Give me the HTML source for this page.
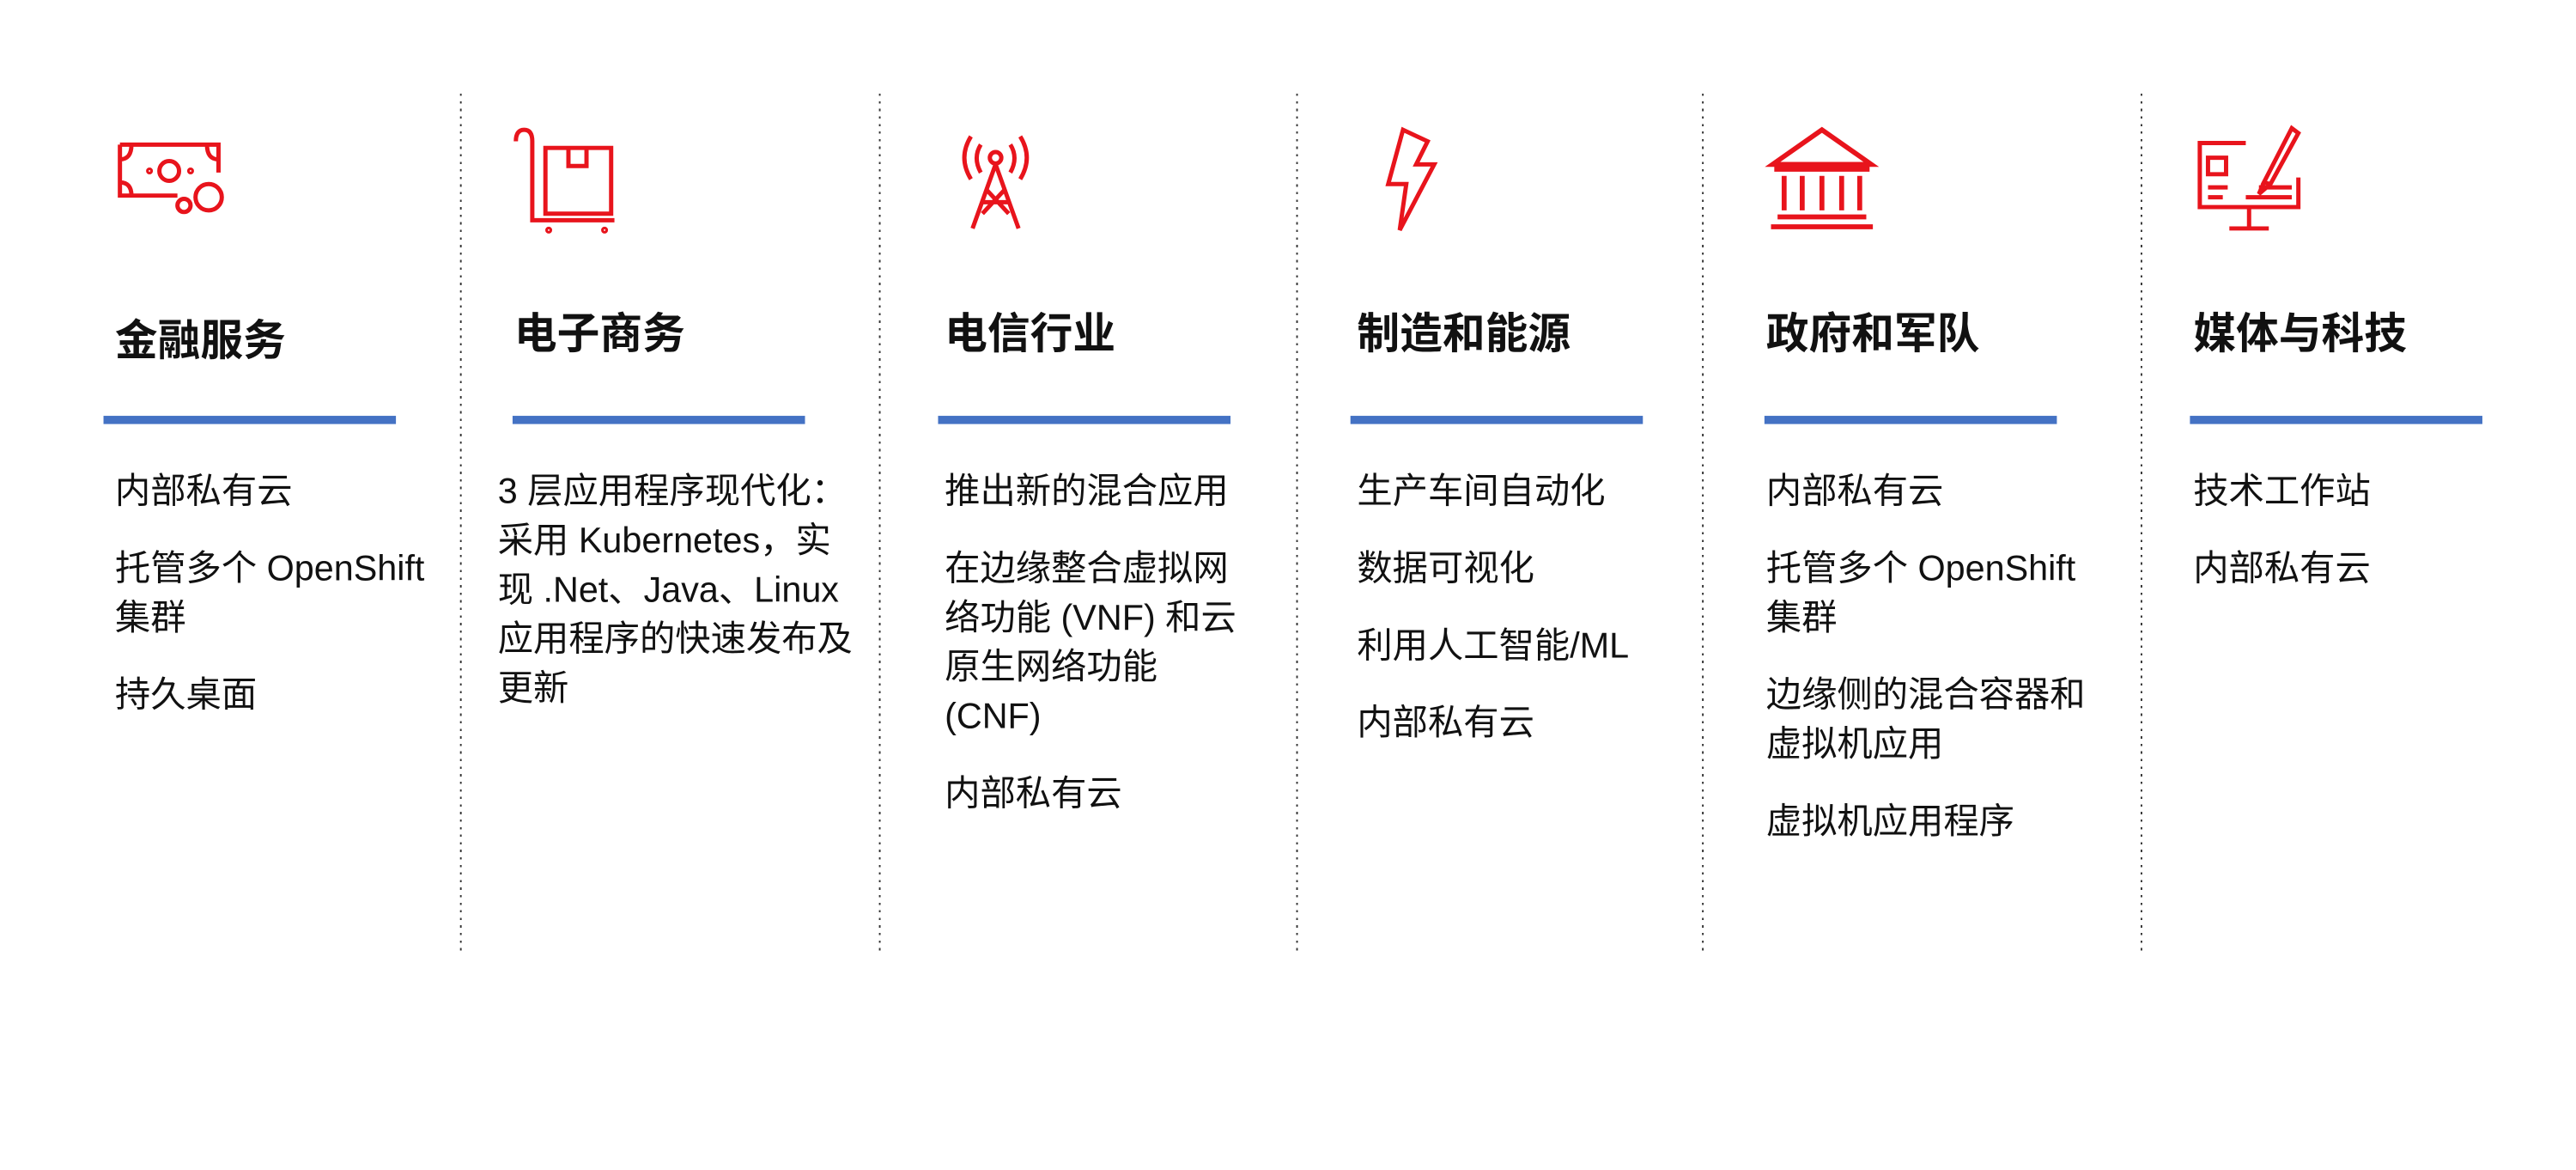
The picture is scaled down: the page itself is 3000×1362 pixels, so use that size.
<!DOCTYPE html>
<html><head><meta charset="utf-8"><style>
html,body{margin:0;padding:0;background:#fff;}
body{width:3000px;height:1362px;overflow:hidden;position:relative;}
#s{position:absolute;left:0;top:0;width:1568px;height:712px;transform:scale(1.91327);transform-origin:0 0;font-family:"Liberation Sans","Noto Sans CJK SC",sans-serif;color:#111;}
.dv{position:absolute;top:57px;height:524px;width:1.4px;background:repeating-linear-gradient(to bottom,#333 0,#333 1.4px,transparent 1.4px,transparent 4.6px);}
.t{position:absolute;font-weight:bold;font-size:26px;line-height:30px;white-space:nowrap;}
.b{position:absolute;top:253px;height:5px;width:178px;background:#4472c4;}
.it{position:absolute;top:284px;font-size:21.6px;line-height:30px;white-space:nowrap;}
.it p{margin:0 0 17px 0;}
svg{position:absolute;overflow:visible;}
svg *{fill:none;stroke:#e8141c;stroke-width:2.6;}
</style></head><body><div id="s">
<div class="dv" style="left:280px"></div>
<div class="dv" style="left:535px"></div>
<div class="dv" style="left:789px"></div>
<div class="dv" style="left:1036px"></div>
<div class="dv" style="left:1303px"></div>

<svg style="left:72px;top:87px" width="66" height="45"><path d="M1 1H61V18 M1 1V32H36 M1 10 Q8 10 8 1 M1 24 Q8 24 8 32 M61 10 Q54 10 54 1"/><circle cx="31" cy="17" r="6"/><circle cx="55" cy="33" r="8"/><circle cx="40" cy="38" r="4"/><circle cx="19" cy="17" r="0.8"/><circle cx="44" cy="17" r="0.8"/></svg>
<svg style="left:312px;top:78px" width="64" height="64"><path d="M2 8 Q2 1 7 1 Q12 1 12 8 V56 H62 M20 12 H60 V52 H20 Z M34 12 V23 H45 V12"/><circle cx="22" cy="62" r="0.8"/><circle cx="56" cy="62" r="0.8"/></svg>
<svg style="left:585px;top:78px" width="44" height="64"><circle cx="21" cy="18" r="3.5"/><path d="M21 22 L7 61 M21 22 L35 61 M13 45 H29 M16 38 L29 52 M26 38 L13 52 M12 27 Q7 18 12 10 M30 27 Q35 18 30 10 M6 31 Q-2 18 6 5 M36 31 Q44 18 36 5"/></svg>
<svg style="left:843px;top:78px" width="32" height="64"><path d="M11 1 L2 34 H13 L9 62 L30 22 H19 L26 8 Z" style="stroke-linejoin:miter"/></svg>
<svg style="left:1076px;top:78px" width="66" height="64"><path d="M33 1 L3 22 H63 Z M4 25 H62 M10 29 V50 M21 29 V50 M33 29 V50 M45 29 V50 M56 29 V50 M6 54 H60 M2 60 H64" style="stroke-width:3"/></svg>
<svg style="left:1337px;top:78px" width="64" height="64"><path d="M30 9 H2 V48 H62 V30 M32 48 V60 M20 61 H44 M7 18 H18 V28 H7 Z M7 36 H19 M7 42 H16 M38 36 H58 M30 42 H58 M62 3 L58 0 L41 33 L45 34 Z M41 33 L38 40 L45 34"/></svg>

<div class="t" style="left:70px;top:192px">金融服务</div>
<div class="t" style="left:313px;top:188px">电子商务</div>
<div class="t" style="left:575px;top:188px">电信行业</div>
<div class="t" style="left:826px;top:188px">制造和能源</div>
<div class="t" style="left:1075px;top:188px">政府和军队</div>
<div class="t" style="left:1335px;top:188px">媒体与科技</div>

<div class="b" style="left:63px"></div>
<div class="b" style="left:312px"></div>
<div class="b" style="left:571px"></div>
<div class="b" style="left:822px"></div>
<div class="b" style="left:1074px"></div>
<div class="b" style="left:1333px"></div>

<div class="it" style="left:70px"><p>内部私有云</p><p>托管多个 OpenShift<br>集群</p><p>持久桌面</p></div>
<div class="it" style="left:303px"><p>3 层应用程序现代化：<br>采用 Kubernetes，实<br>现 .Net、Java、Linux<br>应用程序的快速发布及<br>更新</p></div>
<div class="it" style="left:575px"><p>推出新的混合应用</p><p>在边缘整合虚拟网<br>络功能 (VNF) 和云<br>原生网络功能<br>(CNF)</p><p>内部私有云</p></div>
<div class="it" style="left:826px"><p>生产车间自动化</p><p>数据可视化</p><p>利用人工智能/ML</p><p>内部私有云</p></div>
<div class="it" style="left:1075px"><p>内部私有云</p><p>托管多个 OpenShift<br>集群</p><p>边缘侧的混合容器和<br>虚拟机应用</p><p>虚拟机应用程序</p></div>
<div class="it" style="left:1335px"><p>技术工作站</p><p>内部私有云</p></div>
</div></body></html>
